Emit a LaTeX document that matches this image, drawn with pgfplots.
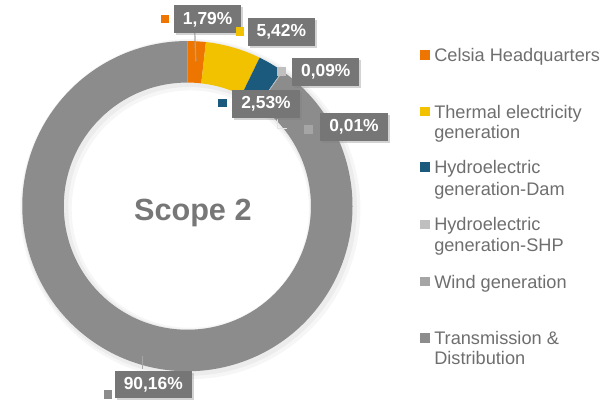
\documentclass[border=0pt]{standalone}
\usepackage{pgfplots}
\pgfplotsset{compat=1.18}
\usepackage{pgfplotstable}
\usepackage{fontspec}
\setmainfont{Liberation Sans}
\usetikzlibrary{shadows}

\definecolor{slice0}{HTML}{EE7600}
\definecolor{slice1}{HTML}{F2C100}
\definecolor{slice2}{HTML}{1B5A7D}
\definecolor{slice3}{HTML}{BFBFBF}
\definecolor{slice4}{HTML}{A5A5A5}
\definecolor{slice5}{HTML}{8C8C8C}
\definecolor{boxgray}{HTML}{767676}
\definecolor{txtgray}{HTML}{6E6E6E}
\definecolor{titlegray}{HTML}{777777}
\definecolor{leader}{HTML}{A6A6A6}

\pgfplotstableread{
label value
Celsia 1.79
Thermal 5.42
Dam 2.53
SHP 0.09
Wind 0.01
TD 90.16
}\slices

\begin{document}
\begin{tikzpicture}
\begin{axis}[
  x=1pt, y=1pt, scale only axis,
  xmin=0, xmax=614, ymin=0, ymax=416,
  hide axis, clip=false,
]
\path (axis cs:0,0) rectangle (axis cs:614,416);
% soft shadow of the donut
\fill[black, opacity=0.035, even odd rule] (axis cs:185.5,204.5) circle[radius=172pt] (axis cs:185.5,204.5) circle[radius=120pt];
\fill[black, opacity=0.04, even odd rule] (axis cs:184.5,205.5) circle[radius=169.5pt] (axis cs:184.5,205.5) circle[radius=122.5pt];
% donut
\def\cx{182.5}\def\cy{207.5}\def\Rout{167}\def\Rin{125}
\def\angA{90}
\pgfplotsforeachungrouped \i in {0,...,5}{%
  \pgfplotstablegetelem{\i}{value}\of\slices
  \pgfmathsetmacro\angB{\angA-3.6*\pgfplotsretval}%
  \pgfmathsetmacro\xa{\cx+\Rout*cos(\angA)}%
  \pgfmathsetmacro\ya{\cy+\Rout*sin(\angA)}%
  \pgfmathsetmacro\xb{\cx+\Rin*cos(\angB)}%
  \pgfmathsetmacro\yb{\cy+\Rin*sin(\angB)}%
  \edef\temp{\noexpand\fill[slice\i] (axis cs:\xa,\ya) arc[start angle=\angA, end angle=\angB, radius=\Rout pt] -- (axis cs:\xb,\yb) arc[start angle=\angB, end angle=\angA, radius=\Rin pt] -- cycle;}%
  \temp
  \global\let\angA\angB
}

% title
\node[anchor=base, font=\fontsize{31}{36}\selectfont\bfseries, text=titlegray] at (axis cs:188,193) {Scope 2};

% leader lines
\draw[leader, line width=1.2pt] (axis cs:190,383) -- (axis cs:191,354);
\draw[white!80!gray, line width=1.2pt] (axis cs:274,296) -- (axis cs:274,286) -- (axis cs:283,286);
\draw[leader, line width=1.2pt] (axis cs:137,43) -- (axis cs:137,56);

% data labels
\tikzset{lbl/.style={fill=boxgray, text=white, font=\fontsize{17.6}{20}\selectfont\bfseries, inner xsep=9pt, minimum height=28pt, drop shadow={opacity=0.35, shadow xshift=2pt, shadow yshift=-2pt}},
  mk/.style={minimum size=8.5pt, inner sep=0pt}}
\node[lbl] at (axis cs:203,396.5) {1,79\%};
\node[mk, fill=slice0] at (axis cs:160,396.5) {};
\node[lbl] at (axis cs:277.5,383.5) {5,42\%};
\node[mk, fill=slice1] at (axis cs:235.5,384) {};
\node[lbl] at (axis cs:322.5,343) {0,09\%};
\node[mk, fill=slice3] at (axis cs:277.5,343.5) {};
\node[lbl] at (axis cs:262,311) {2,53\%};
\node[mk, fill=slice2] at (axis cs:218,312) {};
\node[lbl] at (axis cs:351,287.5) {0,01\%};
\node[mk, fill=slice4] at (axis cs:305,285) {};
\node[lbl] at (axis cs:148,27) {90,16\%};
\node[mk, fill=slice5] at (axis cs:102,17) {};

% legend
\tikzset{lg/.style={anchor=base west, text=txtgray, font=\fontsize{18.4}{21}\selectfont, inner sep=0pt},
  lk/.style={minimum size=9.5pt, inner sep=0pt}}
\node[lk, fill=slice0] at (axis cs:423,360.5) {};
\node[lg] at (axis cs:432,353.5) {Celsia Headquarters};
\node[lk, fill=slice1] at (axis cs:423,303) {};
\node[lg] at (axis cs:432,296.5) {Thermal electricity};
\node[lg] at (axis cs:432,275.5) {generation};
\node[lk, fill=slice2] at (axis cs:423,247) {};
\node[lg] at (axis cs:432,240.5) {Hydroelectric};
\node[lg] at (axis cs:432,218.5) {generation-Dam};
\node[lk, fill=slice3] at (axis cs:423,189) {};
\node[lg] at (axis cs:432,182.5) {Hydroelectric};
\node[lg] at (axis cs:432,161.5) {generation-SHP};
\node[lk, fill=slice4] at (axis cs:423,131) {};
\node[lg] at (axis cs:432,124.5) {Wind generation};
\node[lk, fill=slice5] at (axis cs:423,74) {};
\node[lg] at (axis cs:432,67.5) {Transmission \&};
\node[lg] at (axis cs:432,47.5) {Distribution};
\end{axis}
\end{tikzpicture}
\end{document}
